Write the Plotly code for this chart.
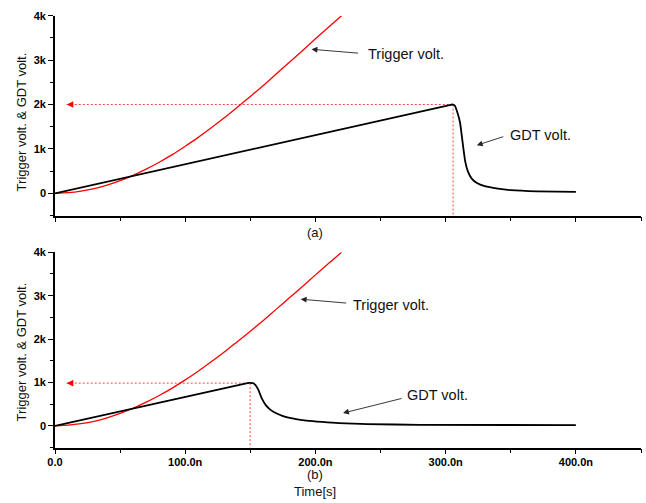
import plotly.graph_objects as go

# ---------------- data (time in ns, voltage in V) ----------------
trigger_t = [0, 10, 20, 30, 40, 50, 60, 70, 80, 90, 100, 110, 120, 130, 140,
             150, 160, 170, 180, 190, 200, 210, 220]
trigger_v = [0, 15, 50, 105, 185, 285, 405, 545, 700, 870, 1060, 1260, 1475,
             1700, 1940, 2180, 2430, 2690, 2950, 3210, 3480, 3740, 4000]

gdt_a_t = [0, 303, 305, 307, 309, 311, 313, 315, 317, 320, 324, 330, 340, 350, 370, 400]
gdt_a_v = [0, 1985, 2000, 1975, 1820, 1600, 1150, 720, 500, 330, 230, 160, 105, 72, 45, 30]

gdt_b_t = [0, 146, 149, 152, 154, 156, 159, 162, 165, 168, 172, 177, 185, 193, 205, 218, 240, 280, 400]
gdt_b_v = [0, 975, 990, 982, 940, 840, 620, 470, 380, 320, 260, 205, 155, 122, 90, 62, 40, 23, 15]

# breakdown markers (peak time, peak voltage, arrow tip time)
peak_a = [305.7, 2000]
peak_b = [149.8, 984]
arrow_tip_t = 9

x_tickvals = [0, 100, 200, 300, 400]
x_ticktext = ["0.0", "100.0n", "200.0n", "300.0n", "400.0n"]
y_tickvals = [0, 1000, 2000, 3000, 4000]
y_ticktext = ["0", "1k", "2k", "3k", "4k"]

y_title = "Trigger volt. & GDT volt."
label_trigger = "Trigger volt."
label_gdt = "GDT volt."
panel_labels = ["(a)", "(b)"]
x_title = "Time[s]"

W, H = 646, 503
FONT = "Arial, Liberation Sans, sans-serif"
RED = "#ff0000"
DOT_RED = "#ff4040"

fig = go.Figure()

for xa, ya, gt, gv, pk in [("x", "y", gdt_a_t, gdt_a_v, peak_a),
                           ("x2", "y2", gdt_b_t, gdt_b_v, peak_b)]:
    # dotted guide lines
    fig.add_trace(go.Scatter(x=[arrow_tip_t, pk[0]], y=[pk[1], pk[1]], mode="lines",
                             line=dict(color=DOT_RED, width=1, dash="2px,2px"),
                             xaxis=xa, yaxis=ya, showlegend=False, hoverinfo="skip"))
    fig.add_trace(go.Scatter(x=[pk[0], pk[0]], y=[pk[1], -500], mode="lines",
                             line=dict(color=DOT_RED, width=1, dash="2px,2px"),
                             xaxis=xa, yaxis=ya, showlegend=False, hoverinfo="skip"))
    fig.add_trace(go.Scatter(x=trigger_t, y=trigger_v, mode="lines",
                             line=dict(color=RED, width=1.3, shape="spline", smoothing=0.6),
                             xaxis=xa, yaxis=ya, showlegend=False))
    fig.add_trace(go.Scatter(x=gt, y=gv, mode="lines",
                             line=dict(color="black", width=1.8, shape="spline", smoothing=0.5),
                             xaxis=xa, yaxis=ya, showlegend=False))

xdom = [55 / W, 641 / W]
ydom_a = [1 - 215.5 / H, 1 - 15.7 / H]
ydom_b = [1 - 447.5 / H, 1 - 252.3 / H]

def xaxis(show_labels, anchor):
    return dict(domain=xdom, range=[0, 450], anchor=anchor, automargin=False,
                tickmode="array", tickvals=x_tickvals, ticktext=x_ticktext,
                showticklabels=show_labels, ticks="outside", ticklen=5, tickwidth=1.2,
                tickcolor="black", ticklabelstandoff=-2,
                minor=dict(tickmode="linear", tick0=0, dtick=50, ticks="outside",
                           ticklen=4, tickwidth=1.2, tickcolor="black"),
                showline=True, linecolor="black", linewidth=1.6,
                showgrid=False, zeroline=False,
                tickfont=dict(family=FONT, size=11, color="black", weight="bold"))

def yaxis(dom, anchor):
    return dict(domain=dom, range=[-500, 4000], anchor=anchor, automargin=False,
                tickmode="array", tickvals=y_tickvals, ticktext=y_ticktext,
                ticks="outside", ticklen=5, tickwidth=1.2, tickcolor="black",
                minor=dict(tickmode="linear", tick0=-500, dtick=500, ticks="outside",
                           ticklen=3, tickwidth=1.2, tickcolor="black"),
                showline=True, linecolor="black", linewidth=1.6,
                showgrid=False, zeroline=False,
                tickfont=dict(family=FONT, size=11, color="black", weight="bold"))

annotations = []
# text labels
for xr, yr, tx, x, y in [("x", "y", label_trigger, 238.9, 3138),
                         ("x", "y", label_gdt, 347.9, 1309),
                         ("x2", "y2", label_trigger, 227.3, 2788),
                         ("x2", "y2", label_gdt, 268.8, 714)]:
    annotations.append(dict(x=x, y=y, xref=xr, yref=yr, text=tx, showarrow=False,
                            xanchor="left", yanchor="middle",
                            font=dict(family=FONT, size=14.5, color="#111111")))
# label arrows (head at data point, tail offset in px)
for xr, yr, x, y, ax, ay in [("x", "y", 197, 3244, 48, 4),
                             ("x", "y", 323.9, 1083, 28, -9),
                             ("x2", "y2", 188.7, 2919, 47, 4),
                             ("x2", "y2", 221.2, 293, 60, -15)]:
    annotations.append(dict(x=x, y=y, xref=xr, yref=yr, text="", showarrow=True,
                            ax=ax, ay=ay, arrowhead=2, arrowsize=1.3, arrowwidth=0.9,
                            arrowcolor="#222222", standoff=0))
# red arrowheads on dotted lines
for xr, yr, pk in [("x", "y", peak_a), ("x2", "y2", peak_b)]:
    annotations.append(dict(x=arrow_tip_t, y=pk[1], xref=xr, yref=yr, text="",
                            showarrow=True, ax=7, ay=0, arrowhead=2, arrowsize=1.1,
                            arrowwidth=1.2, arrowcolor=RED, standoff=0))
# y titles
for yc in [1 - 121.7 / H, 1 - 351.7 / H]:
    annotations.append(dict(x=21.7 / W, y=yc, xref="paper", yref="paper", text=y_title,
                            showarrow=False, textangle=-90, xanchor="center",
                            yanchor="middle",
                            font=dict(family=FONT, size=13, color="#111111")))
# panel labels & x title
for tx, yp in [(panel_labels[0], 232), (panel_labels[1], 474), (x_title, 491)]:
    annotations.append(dict(x=315 / W, y=1 - yp / H, xref="paper", yref="paper", text=tx,
                            showarrow=False, xanchor="center", yanchor="middle",
                            font=dict(family=FONT, size=13, color="#111111")))

fig.update_layout(
    width=W, height=H,
    margin=dict(l=0, r=0, t=0, b=0, autoexpand=False),
    paper_bgcolor="white", plot_bgcolor="white",
    xaxis=xaxis(False, "y"), yaxis=yaxis(ydom_a, "x"),
    xaxis2=xaxis(True, "y2"), yaxis2=yaxis(ydom_b, "x2"),
    annotations=annotations,
    showlegend=False,
)

fig.write_html("out.html",
               config={"displayModeBar": False},
               post_script="document.body.style.margin='0';"
                           "document.body.style.overflow='hidden';")
